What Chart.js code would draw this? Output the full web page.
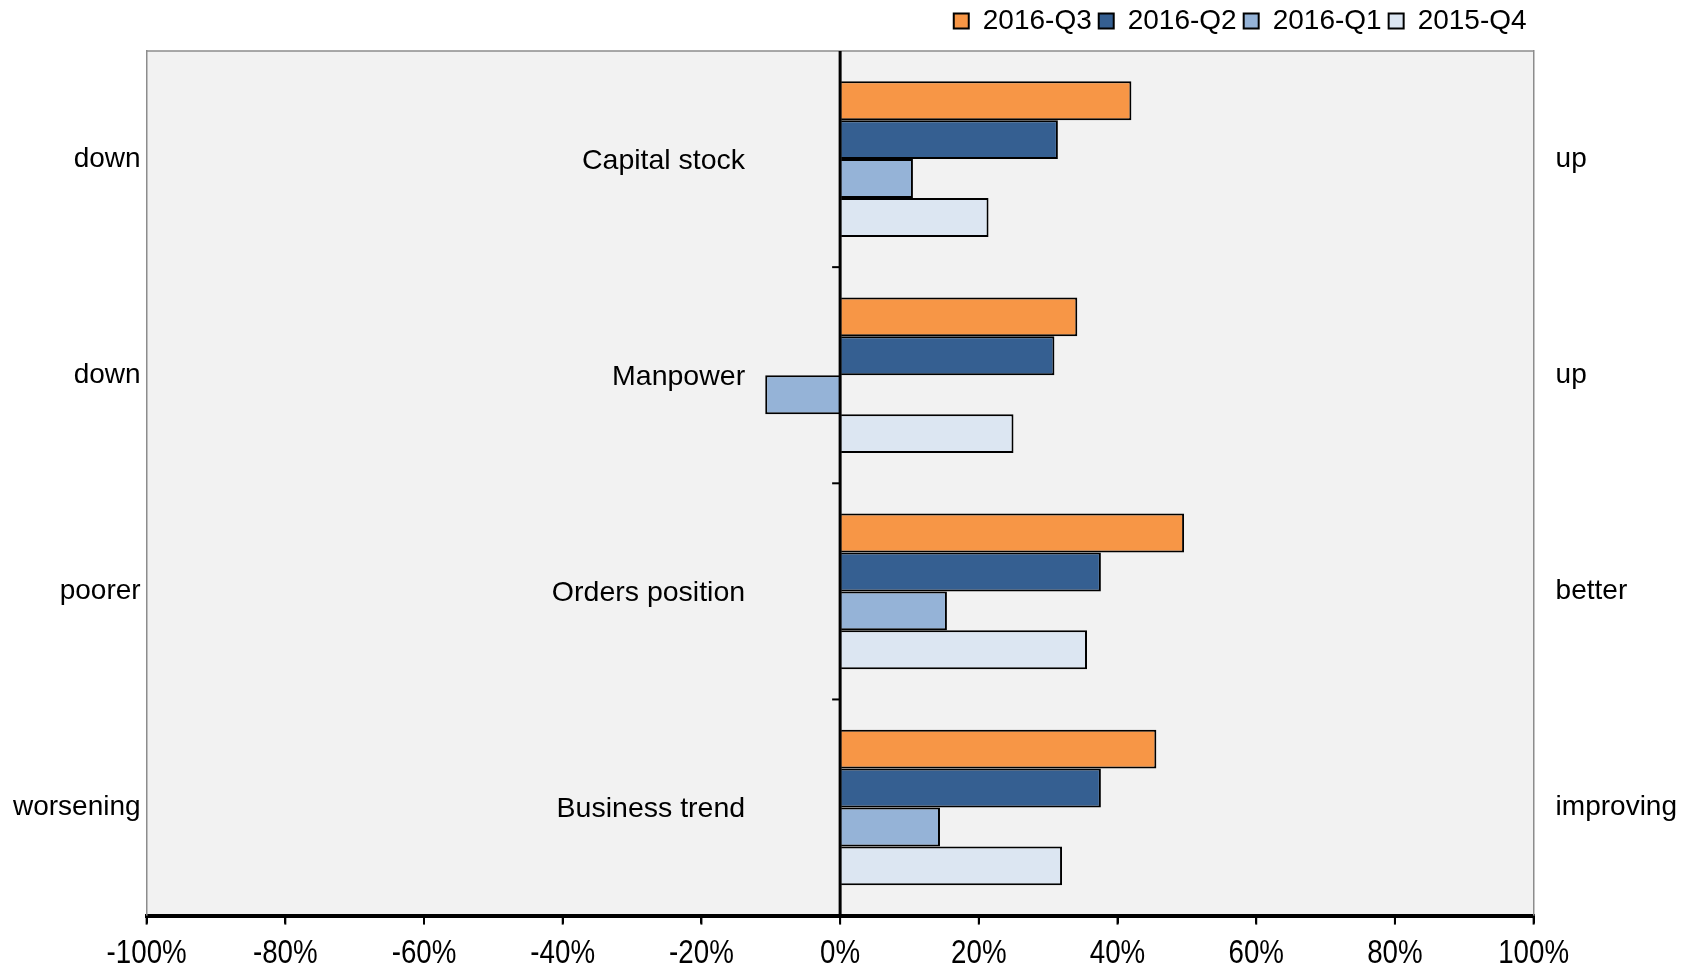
<!DOCTYPE html>
<html lang="en">
<head>
    <meta charset="UTF-8">
    <title>Business survey</title>
    <script src="https://cdn.jsdelivr.net/npm/chart.js"></script>
    <style>
        body { margin: 0; background: #ffffff; }
        .chart-box { width: 1696px; height: 964px; position: relative; }
    </style>
</head>
<body>
    <div class="chart-box">
        <canvas id="surveyChart"></canvas>
    </div>

    <script>
        // categories and side labels
        const categories = ['Capital stock', 'Manpower', 'Orders position', 'Business trend'];
        const leftLabels = ['down', 'down', 'poorer', 'worsening'];
        const rightLabels = ['up', 'up', 'better', 'improving'];

        // series values (%)
        const q3_2016 = [42.0, 34.2, 49.6, 45.6];
        const q2_2016 = [31.4, 30.9, 37.6, 37.6];
        const q1_2016 = [10.5, -10.8, 15.4, 14.4];
        const q4_2015 = [21.4, 25.0, 35.6, 32.0];

        const xTicks = [-100, -80, -60, -40, -20, 0, 20, 40, 60, 80, 100];

        const FONT = "'Liberation Sans', Arial, sans-serif";

        // legend needs a bit more room below it
        const legendGap = {
            id: 'legendGap',
            beforeInit(chart) {
                const fit = chart.legend.fit;
                chart.legend.fit = function () {
                    fit.bind(chart.legend)();
                    this.height += 6;
                };
            }
        };

        // grey plot background, top border, zero line, x labels and the labels in the middle
        const plotDecor = {
            id: 'plotDecor',
            beforeDraw(chart) {
                const { ctx, chartArea: a } = chart;
                ctx.save();
                ctx.fillStyle = '#f2f2f2';
                ctx.fillRect(a.left, a.top, a.right - a.left, a.bottom - a.top);
                ctx.strokeStyle = '#8c8c8c';
                ctx.lineWidth = 1.5;
                ctx.beginPath();
                ctx.moveTo(a.left, a.top);
                ctx.lineTo(a.right, a.top);
                ctx.stroke();
                ctx.restore();
            },
            afterDatasetsDraw(chart) {
                const { ctx, chartArea: a, scales } = chart;
                const x0 = scales.x.getPixelForValue(0);
                const band = (a.bottom - a.top) / categories.length;
                ctx.save();
                ctx.strokeStyle = '#000';
                ctx.lineWidth = 3;
                ctx.beginPath();
                ctx.moveTo(x0, a.top);
                ctx.lineTo(x0, a.bottom);
                ctx.stroke();
                ctx.lineWidth = 2;
                for (let i = 1; i < categories.length; i++) {
                    const yb = a.top + band * i;
                    ctx.beginPath();
                    ctx.moveTo(x0 - 8, yb);
                    ctx.lineTo(x0, yb);
                    ctx.stroke();
                }
                ctx.fillStyle = '#000';
                ctx.font = '28.5px ' + FONT;
                ctx.textAlign = 'right';
                ctx.textBaseline = 'middle';
                categories.forEach((c, i) => {
                    ctx.fillText(c, x0 - 95, scales.y.getPixelForValue(i) + 2);
                });
                ctx.restore();
            },
            afterDraw(chart) {
                const { ctx, chartArea: a, scales } = chart;
                ctx.save();
                ctx.strokeStyle = '#000';
                ctx.lineWidth = 2;
                xTicks.forEach(v => {
                    const px = scales.x.getPixelForValue(v);
                    ctx.beginPath();
                    ctx.moveTo(px, a.bottom);
                    ctx.lineTo(px, a.bottom + 9);
                    ctx.stroke();
                });
                // condensed tick labels, like the original
                ctx.fillStyle = '#000';
                ctx.font = '33px ' + FONT;
                ctx.textAlign = 'center';
                ctx.textBaseline = 'middle';
                xTicks.forEach(v => {
                    const px = scales.x.getPixelForValue(v);
                    ctx.save();
                    ctx.translate(px, a.bottom + 38);
                    ctx.scale(0.84, 1);
                    ctx.fillText(v + '%', 0, 0);
                    ctx.restore();
                });
                ctx.restore();
            }
        };

        const ctx = document.getElementById('surveyChart').getContext('2d');
        new Chart(ctx, {
            type: 'bar',
            data: {
                labels: categories,
                datasets: [
                    { label: '2016-Q3', data: q3_2016, backgroundColor: '#f79646' },
                    { label: '2016-Q2', data: q2_2016, backgroundColor: '#355f91' },
                    { label: '2016-Q1', data: q1_2016, backgroundColor: '#95b3d7' },
                    { label: '2015-Q4', data: q4_2015, backgroundColor: '#dce6f2' }
                ].map(d => Object.assign(d, {
                    borderColor: '#000',
                    borderWidth: 2,
                    categoryPercentage: 0.72,
                    barPercentage: 1.0
                }))
            },
            options: {
                indexAxis: 'y',
                responsive: true,
                maintainAspectRatio: false,
                animation: false,
                layout: { padding: { left: 7, right: -3, top: 0, bottom: 0 } },
                plugins: {
                    tooltip: { enabled: false },
                    legend: {
                        position: 'top',
                        align: 'end',
                        fullSize: false,
                        labels: {
                            color: '#000',
                            font: { size: 28, family: FONT },
                            boxWidth: 15,
                            boxHeight: 15,
                            padding: 7
                        }
                    }
                },
                scales: {
                    x: {
                        min: -100,
                        max: 100,
                        afterBuildTicks(scale) {
                            scale.ticks = xTicks.map(v => ({ value: v }));
                        },
                        ticks: {
                            color: 'rgba(0,0,0,0)',
                            font: { size: 32, family: FONT },
                            padding: 1,
                            maxRotation: 0,
                            callback: v => v + '%'
                        },
                        grid: {
                            drawOnChartArea: false,
                            color: '#000',
                            lineWidth: 2,
                            tickLength: 8
                        },
                        border: { color: '#000', width: 4 }
                    },
                    y: {
                        type: 'category',
                        labels: leftLabels,
                        position: 'left',
                        offset: true,
                        ticks: {
                            color: '#000',
                            font: { size: 28, family: FONT },
                            padding: 6
                        },
                        grid: { drawOnChartArea: false, drawTicks: false },
                        border: { color: '#8c8c8c', width: 1.5 }
                    },
                    yRight: {
                        type: 'category',
                        labels: rightLabels,
                        position: 'right',
                        offset: true,
                        ticks: {
                            color: '#000',
                            font: { size: 28, family: FONT },
                            padding: 22,
                            crossAlign: 'near'
                        },
                        grid: { drawOnChartArea: false, drawTicks: false },
                        border: { color: '#8c8c8c', width: 1.5 }
                    }
                }
            },
            plugins: [legendGap, plotDecor]
        });
    </script>
</body>
</html>
